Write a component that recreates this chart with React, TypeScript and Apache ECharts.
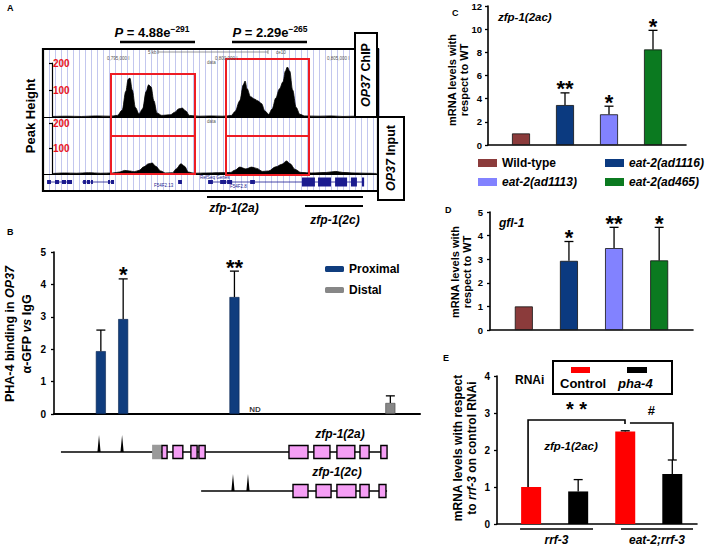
import React, { useEffect, useRef } from "react";
import * as echarts from "echarts";

const FONT = "'Liberation Sans', Arial, Helvetica, sans-serif";

// ---------------- Panel A: genome browser (x in kb from browser left edge) ----------------
const chipTrack: number[][] = [
  [0.4, 2], [1.0, 3], [1.6, 2], [2.2, 4], [2.8, 3], [3.1, 6], [3.3, 25], [3.45, 95], [3.55, 140], [3.62, 144],
  [3.72, 100], [3.85, 35], [4.0, 12], [4.15, 30], [4.3, 95], [4.4, 119], [4.5, 112], [4.62, 60], [4.75, 15],
  [4.95, 6], [5.3, 8], [5.5, 18], [5.65, 30], [5.8, 33], [5.95, 22], [6.1, 6], [6.5, 3], [7.0, 4], [7.5, 3],
  [7.85, 6], [8.0, 20], [8.2, 60], [8.35, 120], [8.42, 133], [8.5, 105], [8.65, 75], [8.8, 67], [8.95, 60],
  [9.1, 50], [9.25, 22], [9.4, 10], [9.55, 30], [9.7, 70], [9.85, 104], [10.0, 130], [10.1, 170], [10.18, 185],
  [10.28, 170], [10.4, 100], [10.55, 35], [10.7, 10], [10.9, 4], [11.5, 3], [12.0, 4], [12.5, 2], [13.0, 3],
  [13.5, 2], [13.9, 2],
];
const inputTrack: number[][] = [
  [0.4, 2], [0.9, 4], [1.4, 3], [1.9, 5], [2.4, 3], [2.9, 4], [3.2, 8], [3.4, 14], [3.6, 12], [3.8, 9],
  [4.0, 14], [4.2, 28], [4.4, 40], [4.55, 43], [4.7, 30], [4.9, 12], [5.1, 4], [5.4, 5], [5.55, 20], [5.75, 40],
  [5.9, 30], [6.05, 8], [6.3, 3], [6.8, 4], [7.3, 5], [7.8, 6], [8.0, 15], [8.2, 27], [8.45, 20], [8.7, 27],
  [8.9, 22], [9.15, 10], [9.4, 12], [9.7, 28], [9.95, 38], [10.15, 51], [10.3, 40], [10.5, 18], [10.75, 6],
  [11.2, 4], [11.8, 6], [12.2, 10], [12.5, 6], [13.0, 4], [13.5, 3], [13.9, 2],
];
// gene annotation track: [start kb, end kb]
const geneAIntrons: number[][] = [[0.17, 1.21], [1.63, 2.96], [6.88, 13.38]];
const geneASmallExons: number[][] = [
  [0.17, 0.33], [0.5, 0.67], [0.79, 0.96], [1.0, 1.21], [1.67, 1.79], [1.83, 1.96], [2.0, 2.08], [2.71, 2.79],
  [2.83, 2.96], [5.63, 5.79], [6.88, 7.08], [7.38, 7.63], [7.67, 7.88], [8.63, 8.83],
];
const geneABigExons: number[][] = [[10.79, 11.33], [11.46, 12.0], [12.17, 12.67], [12.83, 13.08], [13.29, 13.38]];

// ---------------- Panel B: PHA-4 ChIP-qPCR ----------------
const bProximalPos = [12.8, 18.9, 49.3];
const bProximalMean = [1.94, 2.93, 3.61];
const bProximalErr = [2.59, 4.17, 4.41];
const bProximalStars = ["", "*", "**"];
const bDistalPos = [91.9];
const bDistalMean = [0.34];
const bDistalErr = [0.56];
const bNDPos = [54.9];
// gene models (x in same units as panel B axis)
const geneBSpan2a = [1.9, 91.0];
const geneBSpan2c = [40.2, 91.0];
const geneBPeaks2a = [12.3, 18.6];
const geneBPeaks2c = [48.9, 53.0];
const geneBUtr2a: number[][] = [[27.0, 29.2]];
const geneBExons2a: number[][] = [
  [29.5, 30.9], [32.5, 35.2], [37.4, 39.1], [39.6, 41.3], [64.2, 69.4], [71.0, 75.4], [77.3, 82.2], [83.6, 86.1], [89.3, 91.0],
];
const geneBExons2c: number[][] = [[65.3, 69.4], [71.6, 75.7], [77.3, 82.5], [83.6, 86.1], [88.8, 90.7]];

// ---------------- Panels C & D: strains ----------------
const strains = ["Wild-type", "eat-2(ad1116)", "eat-2(ad1113)", "eat-2(ad465)"];
const strainColors = ["#8b3b3b", "#0b3a80", "#8282ff", "#0b7a20"];
const cMean = [1.0, 3.45, 2.65, 8.25];
const cErr = [1.0, 4.5, 3.35, 9.9];
const cStars = ["", "**", "*", "*"];
const dMean = [1.0, 2.93, 3.47, 2.95];
const dErr = [1.0, 3.75, 4.35, 4.35];
const dStars = ["", "*", "**", "*"];

// ---------------- Panel E: RNAi ----------------
const eGroups = ["rrf-3", "eat-2;rrf-3"];
const eControlMean = [1.0, 2.5];
const eControlErr = [1.0, 2.52];
const ePha4Mean = [0.88, 1.35];
const ePha4Err = [1.2, 1.73];
const eBrackets: number[][] = [[1.32, 1.0, 2.81, 5.44, 2.7], [5.65, 2.73, 2.73, 7.48, 1.73]];
const eBracketLabels = ["* *", "#"];

const bold = (size: number, extra: any = {}) => ({
  fontFamily: FONT, fontWeight: "bold", fontSize: size, color: "#000", ...extra,
});

function errSeries(name: string, idx: number, pos: number[], mean: number[], err: number[], stars: string[], starSize: number, cap: number) {
  return {
    type: "custom", name, xAxisIndex: idx, yAxisIndex: idx, z: 5,
    data: pos.map((p, i) => [p, mean[i], err[i]]),
    renderItem: (params: any, api: any) => {
      const x = api.value(0), v = api.value(1), e = api.value(2);
      const p0 = api.coord([x, v]);
      const p1 = api.coord([x, e]);
      const ls = { stroke: "#000", lineWidth: 1.3 };
      const children: any[] = [];
      if (e - v > 0) {
        children.push({ type: "line", shape: { x1: p0[0], y1: p0[1], x2: p1[0], y2: p1[1] }, style: ls });
        children.push({ type: "line", shape: { x1: p1[0] - cap, y1: p1[1], x2: p1[0] + cap, y2: p1[1] }, style: ls });
      }
      const s = stars[params.dataIndex];
      if (s) {
        children.push({
          type: "text", x: p1[0], y: p1[1] + starSize * 0.32,
          style: { text: s, fontSize: starSize, fontWeight: "bold", fontFamily: FONT, fill: "#000",
            textAlign: "center", textVerticalAlign: "bottom", align: "center", verticalAlign: "bottom" },
        });
      }
      return { type: "group", children };
    },
  };
}

function txt(text: string, x: number, y: number, size: number, opts: any = {}) {
  const { align = "left", valign = "middle", rotation = 0, italic = false, color = "#000", weight = "bold", rich, lineHeight } = opts;
  return {
    type: "text", x, y, rotation, z: 120,
    style: {
      text, fill: color, fontSize: size, fontWeight: weight, fontFamily: FONT,
      fontStyle: italic ? "italic" : "normal",
      textAlign: align, textVerticalAlign: valign, align, verticalAlign: valign,
      ...(rich ? { rich } : {}), ...(lineHeight ? { lineHeight } : {}),
    },
  };
}
function ln(x1: number, y1: number, x2: number, y2: number, w: number, color = "#000") {
  return { type: "line", z: 110, shape: { x1, y1, x2, y2 }, style: { stroke: color, lineWidth: w } };
}
function box(x: number, y: number, w: number, h: number, stroke: string, lw: number, fill: any = null, z = 110) {
  return { type: "rect", z, shape: { x, y, width: w, height: h }, style: { fill: fill || "transparent", stroke, lineWidth: lw } };
}

function buildOption() {
  const grids = [
    { left: 43, top: 49, width: 336, height: 142 }, // 0 A background
    { left: 43, top: 63, width: 336, height: 54 }, // 1 ChIP
    { left: 43, top: 123, width: 336, height: 51 }, // 2 Input
    { left: 43, top: 176, width: 336, height: 12 }, // 3 gene A
    { left: 54, top: 252, width: 366, height: 162 }, // 4 B
    { left: 54, top: 452, width: 366, height: 39 }, // 5 gene B
    { left: 488, top: 6, width: 198, height: 139 }, // 6 C
    { left: 490, top: 212, width: 203, height: 118 }, // 7 D
    { left: 497, top: 376, width: 200, height: 148 }, // 8 E
  ].map((g) => ({ ...g, outerBoundsMode: "none", containLabel: false }));

  const hiddenX = (gi: number, min: number, max: number) => ({
    type: "value", gridIndex: gi, min, max, show: false,
  });
  const lineX = (gi: number, min: number, max: number, w: number) => ({
    type: "value", gridIndex: gi, min, max,
    axisLine: { show: true, onZero: false, lineStyle: { color: "#000", width: w } },
    axisTick: { show: false }, axisLabel: { show: false }, splitLine: { show: false },
  });
  const xAxis = [
    {
      type: "value", gridIndex: 0, min: 0, max: 14, interval: 0.25,
      axisLine: { show: false }, axisTick: { show: false }, axisLabel: { show: false },
      splitLine: { show: true, lineStyle: { color: "#bcc1ec", width: 0.9 } },
    },
    lineX(1, 0, 14, 1),
    lineX(2, 0, 14, 1),
    hiddenX(3, 0, 14),
    lineX(4, 0, 100, 2),
    hiddenX(5, 0, 100),
    lineX(6, 0, 9, 1.6),
    lineX(7, 0, 9, 1.6),
    lineX(8, 0, 8.5, 1.6),
  ];
  const trackY = (gi: number) => ({
    type: "value", gridIndex: gi, min: 0, max: 200, interval: 100, offset: -9,
    axisLine: { show: true, lineStyle: { color: "#000", width: 1.2 } },
    axisTick: { show: true, length: 3, lineStyle: { color: "#000", width: 1.2 } },
    axisLabel: { show: true, inside: true, margin: 1, showMinLabel: false, ...bold(10, { color: "#e8141c" }) },
    splitLine: { show: false },
  });
  const valY = (gi: number, max: number, interval: number, margin: number, size: number) => ({
    type: "value", gridIndex: gi, min: 0, max, interval,
    axisLine: { show: true, lineStyle: { color: "#000", width: 1.6 } },
    axisTick: { show: true, length: 3, lineStyle: { color: "#000", width: 1.3 } },
    axisLabel: { show: true, margin, ...bold(size) },
    splitLine: { show: false },
  });
  const yAxis = [
    { type: "value", gridIndex: 0, min: 0, max: 1, show: false },
    trackY(1),
    trackY(2),
    { type: "value", gridIndex: 3, min: 0, max: 1, show: false },
    valY(4, 5, 1, 8, 10),
    { type: "value", gridIndex: 5, min: 0, max: 1, show: false },
    valY(6, 12, 2, 6, 9.5),
    valY(7, 5, 1, 7, 9.5),
    valY(8, 4, 1, 7, 10),
  ];

  const series: any[] = [];
  // ----- A tracks -----
  const trackSeries = (name: string, idx: number, data: number[][]) => ({
    type: "line", name, xAxisIndex: idx, yAxisIndex: idx, data, symbol: "none",
    smooth: 0.35, smoothMonotone: "x",
    lineStyle: { color: "#000", width: 0.8 }, areaStyle: { color: "#000", opacity: 1 }, z: 3,
  });
  series.push(trackSeries("OP37 ChIP", 1, chipTrack));
  series.push(trackSeries("OP37 Input", 2, inputTrack));
  const geneAData = [
    ...geneAIntrons.map((g) => [g[0], g[1], 0]),
    ...geneASmallExons.map((g) => [g[0], g[1], 1]),
    ...geneABigExons.map((g) => [g[0], g[1], 2]),
  ];
  series.push({
    type: "custom", name: "RefSeq Genes", xAxisIndex: 3, yAxisIndex: 3, data: geneAData, z: 4,
    renderItem: (params: any, api: any) => {
      const a = api.coord([api.value(0), 0.5]);
      const b = api.coord([api.value(1), 0.5]);
      const k = api.value(2);
      const col = "#1b1b8f";
      if (k === 0) return { type: "line", shape: { x1: a[0], y1: a[1], x2: b[0], y2: a[1] }, style: { stroke: col, lineWidth: 0.8 } };
      const h = k === 1 ? 4 : 9;
      return { type: "rect", shape: { x: a[0], y: a[1] - h / 2, width: Math.max(b[0] - a[0], 1), height: h }, style: { fill: col } };
    },
  });

  // ----- B -----
  series.push({
    type: "bar", name: "Proximal", xAxisIndex: 4, yAxisIndex: 4, barWidth: 10, barGap: "-100%",
    data: bProximalPos.map((p, i) => [p, bProximalMean[i]]),
    itemStyle: { color: "#103d7e", borderColor: "#0a2550", borderWidth: 0.6 },
  });
  series.push({
    type: "bar", name: "Distal", xAxisIndex: 4, yAxisIndex: 4, barWidth: 10, barGap: "-100%",
    data: bDistalPos.map((p, i) => [p, bDistalMean[i]]),
    itemStyle: { color: "#878787", borderColor: "#444", borderWidth: 0.6 },
  });
  series.push(errSeries("errB1", 4, bProximalPos, bProximalMean, bProximalErr, bProximalStars, 22, 4.5));
  series.push(errSeries("errB2", 4, bDistalPos, bDistalMean, bDistalErr, [""], 22, 4.5));
  series.push({
    type: "scatter", name: "ND", xAxisIndex: 4, yAxisIndex: 4, symbolSize: 0,
    data: bNDPos.map((p) => [p, 0]),
    label: { show: true, position: "top", distance: 1, formatter: "ND", ...bold(8), color: "#000" },
  });
  const geneBData = [
    [geneBSpan2a[0], geneBSpan2a[1], 1, 0],
    [geneBSpan2c[0], geneBSpan2c[1], 0, 0],
    ...geneBPeaks2a.map((p) => [p, p, 1, 3]),
    ...geneBPeaks2c.map((p) => [p, p, 0, 3]),
    ...geneBUtr2a.map((g) => [g[0], g[1], 1, 2]),
    ...geneBExons2a.map((g) => [g[0], g[1], 1, 1]),
    ...geneBExons2c.map((g) => [g[0], g[1], 0, 1]),
  ];
  series.push({
    type: "custom", name: "zfp-1 gene models", xAxisIndex: 5, yAxisIndex: 5, data: geneBData, z: 4,
    renderItem: (params: any, api: any) => {
      const row = api.value(2);
      const a = api.coord([api.value(0), row]);
      const b = api.coord([api.value(1), row]);
      const k = api.value(3);
      if (k === 0) return { type: "line", shape: { x1: a[0], y1: a[1], x2: b[0], y2: a[1] }, style: { stroke: "#000", lineWidth: 1.5 } };
      if (k === 3) return { type: "polygon", shape: { points: [[a[0] - 1.6, a[1]], [a[0], a[1] - 17], [a[0] + 1.6, a[1]]] }, style: { fill: "#000" } };
      const fill = k === 2 ? "#9a9a9a" : "#f59ef5";
      return { type: "rect", shape: { x: a[0], y: a[1] - 6.5, width: b[0] - a[0], height: 13 }, style: { fill, stroke: k === 2 ? "#9a9a9a" : "#000", lineWidth: 1.4 } };
    },
  });

  // ----- C & D -----
  const strainPos = strains.map((_, i) => 1.5 + 2 * i);
  strains.forEach((s, i) => {
    series.push({
      type: "bar", name: s, xAxisIndex: 6, yAxisIndex: 6, barWidth: 18, barGap: "-100%",
      data: [[strainPos[i], cMean[i]]],
      itemStyle: { color: strainColors[i], borderColor: "#111", borderWidth: 0.8 },
    });
  });
  series.push(errSeries("errC", 6, strainPos, cMean, cErr, cStars, 22, 4.5));
  strains.forEach((s, i) => {
    series.push({
      type: "bar", name: s, xAxisIndex: 7, yAxisIndex: 7, barWidth: 18, barGap: "-100%",
      data: [[strainPos[i], dMean[i]]],
      itemStyle: { color: strainColors[i], borderColor: "#111", borderWidth: 0.8 },
    });
  });
  series.push(errSeries("errD", 7, strainPos, dMean, dErr, dStars, 22, 4.5));

  // ----- E -----
  const eCtrlPos = [1.45, 5.45];
  const ePhaPos = [3.45, 7.45];
  series.push({
    type: "bar", name: "Control", xAxisIndex: 8, yAxisIndex: 8, barWidth: 20, barGap: "-100%",
    data: eCtrlPos.map((p, i) => [p, eControlMean[i]]), itemStyle: { color: "#ff0000" },
  });
  series.push({
    type: "bar", name: "pha-4", xAxisIndex: 8, yAxisIndex: 8, barWidth: 20, barGap: "-100%",
    data: ePhaPos.map((p, i) => [p, ePha4Mean[i]]), itemStyle: { color: "#000" },
  });
  series.push(errSeries("errE1", 8, eCtrlPos, eControlMean, eControlErr, ["", ""], 20, 4.5));
  series.push(errSeries("errE2", 8, ePhaPos, ePha4Mean, ePha4Err, ["", ""], 20, 4.5));
  series.push({
    type: "custom", name: "brackets", xAxisIndex: 8, yAxisIndex: 8, data: eBrackets, z: 6,
    renderItem: (params: any, api: any) => {
      const s = api.coord([api.value(0), api.value(1)]);
      const t = api.coord([api.value(0), api.value(2)]);
      const u = api.coord([api.value(3), api.value(2)]);
      const e = api.coord([api.value(3), api.value(4)]);
      const lbl = eBracketLabels[params.dataIndex];
      const isStar = lbl.indexOf("*") >= 0;
      return {
        type: "group",
        children: [
          { type: "polyline", shape: { points: [s, t, u, e] }, style: { stroke: "#000", lineWidth: 1.6, fill: null } },
          {
            type: "text", x: (t[0] + u[0]) / 2, y: t[1] - (isStar ? 1 : 6),
            style: { text: lbl, fontSize: isStar ? 20 : 13, fontWeight: "bold", fontFamily: FONT, fill: "#000",
              textAlign: "center", textVerticalAlign: "bottom", align: "center", verticalAlign: "bottom" },
          },
        ],
      };
    },
  });
  const eGroupSpan: number[][] = [[0.98, 4.08], [5.27, 8.33]];
  series.push({
    type: "custom", name: "groups", xAxisIndex: 8, yAxisIndex: 8, data: eGroupSpan, z: 6,
    renderItem: (params: any, api: any) => {
      const a = api.coord([api.value(0), 0]);
      const b = api.coord([api.value(1), 0]);
      return {
        type: "group",
        children: [
          { type: "line", shape: { x1: a[0], y1: a[1] + 5, x2: b[0], y2: a[1] + 5 }, style: { stroke: "#000", lineWidth: 1.6 } },
          {
            type: "text", x: (a[0] + b[0]) / 2, y: a[1] + 16,
            style: { text: eGroups[params.dataIndex], fontSize: 12, fontWeight: "bold", fontStyle: "italic", fontFamily: FONT, fill: "#000",
              textAlign: "center", textVerticalAlign: "middle", align: "center", verticalAlign: "middle" },
          },
        ],
      };
    },
  });

  const legendBase = {
    orient: "vertical", selectedMode: false, icon: "rect", itemWidth: 19, itemHeight: 8, padding: 0,
    itemStyle: { borderWidth: 0 }, textStyle: bold(12),
  };
  const legend = [
    { ...legendBase, left: 325, top: 263, itemHeight: 6, itemGap: 9, icon: "roundRect", data: ["Proximal", "Distal"] },
    { ...legendBase, left: 478, top: 157, itemGap: 7, data: [{ name: strains[0] }, { name: strains[2], textStyle: { fontStyle: "italic" } }] },
    { ...legendBase, left: 605, top: 157, itemGap: 7, data: [{ name: strains[1], textStyle: { fontStyle: "italic" } }, { name: strains[3], textStyle: { fontStyle: "italic" } }] },
  ];

  const itRich = (size: number) => ({
    i: { fontSize: size, fontWeight: "bold", fontStyle: "italic", fontFamily: FONT, fill: "#000", color: "#000" },
  });
  const pRich = {
    i: { fontSize: 13, fontWeight: "bold", fontStyle: "italic", fontFamily: FONT, fill: "#000", color: "#000" },
    n: { fontSize: 13, fontWeight: "bold", fontFamily: FONT, fill: "#000", color: "#000" },
    s: { fontSize: 8.5, fontWeight: "bold", fontFamily: FONT, fill: "#000", color: "#000", verticalAlign: "top", padding: [0, 0, 7, 0] },
  };

  const graphic = [
    // Panel letters
    txt("A", 7, 8, 9), txt("B", 7, 232, 9), txt("C", 452, 13, 9), txt("D", 445, 210, 9), txt("E", 443, 358, 9),
    // Panel A frame and labels
    box(43, 49, 335, 142, "#000", 2.2, null, 105),
    box(355, 33, 22, 84, "#000", 2, "#fff", 108),
    box(378, 117, 26, 83, "#000", 2, "#fff", 108),
    txt("{i|OP37} ChIP", 366, 75, 12.5, { align: "center", rotation: Math.PI / 2, rich: itRich(12.5) }),
    txt("{i|OP37} Input", 391, 158, 12.5, { align: "center", rotation: Math.PI / 2, rich: itRich(12.5) }),
    txt("Peak Height", 30, 116, 13, { align: "center", rotation: Math.PI / 2 }),
    txt("{i|P}{n| = 4.88e}{s|−291}", 152, 32, 13, { align: "center", rich: pRich }),
    txt("{i|P}{n| = 2.29e}{s|−265}", 270, 32, 13, { align: "center", rich: pRich }),
    ln(120, 42, 195, 42, 2.4), ln(232, 42, 307, 42, 2.4),
    // red highlight boxes
    box(111, 74, 84, 100, "#ee1c24", 2, null, 112), ln(111, 136, 195, 136, 2, "#ee1c24"),
    box(226, 59, 83, 116, "#ee1c24", 2, null, 112), ln(226, 136, 309, 136, 2, "#ee1c24"),
    // browser header tiny labels
    txt("0,795,000 I", 107, 58, 4.5, { color: "#555", weight: "normal" }),
    txt("5 kb", 148, 52, 4.5, { color: "#555", weight: "normal" }),
    ln(158, 52, 268, 52, 0.6, "#555"), ln(158, 50, 158, 54, 0.6, "#555"), ln(268, 50, 268, 54, 0.6, "#555"),
    txt("ce10", 276, 52, 4.5, { color: "#555", weight: "normal" }),
    txt("data", 207, 62, 4.5, { color: "#555", weight: "normal" }),
    txt("0,800,000 I", 215, 58, 4.5, { color: "#555", weight: "normal" }),
    txt("0,805,000 I", 327, 58, 4.5, { color: "#555", weight: "normal" }),
    txt("data", 207, 121, 4.5, { color: "#555", weight: "normal" }),
    txt("F54F2.13", 154, 185, 4.5, { color: "#1b1b8f", weight: "normal" }),
    txt("RefSeq Genes", 200, 177, 4.5, { color: "#1b1b8f", weight: "normal" }),
    txt("F54F2.8", 230, 186, 4.5, { color: "#1b1b8f", weight: "normal" }),
    // gene spans under A
    ln(207, 197, 363, 197, 2), txt("zfp-1(2a)", 234, 208, 12, { align: "center", italic: true }),
    ln(305, 206, 363, 206, 2), txt("zfp-1(2c)", 335, 220, 12, { align: "center", italic: true }),
    // Panel B labels
    txt("PHA-4 binding in {i|OP37}\nα-GFP {i|vs} IgG", 18, 334, 12.5, { align: "center", rotation: Math.PI / 2, rich: itRich(12.5), lineHeight: 17 }),
    txt("zfp-1(2a)", 340, 434, 12, { align: "center", italic: true }),
    txt("zfp-1(2c)", 337, 472, 12, { align: "center", italic: true }),
    // Panel C / D labels
    txt("mRNA levels with\nrespect to WT", 458, 80, 11, { align: "center", rotation: Math.PI / 2, lineHeight: 11.5 }),
    txt("zfp-1(2ac)", 498, 17, 11.5, { italic: true }),
    txt("mRNA levels with\nrespect to WT", 461, 272, 11, { align: "center", rotation: Math.PI / 2, lineHeight: 11.5 }),
    txt("gfl-1", 499, 223, 12, { italic: true }),
    // Panel E labels
    txt("mRNA levels with respect\nto {i|rrf-3} on control RNAi", 465, 448, 12, { align: "center", rotation: Math.PI / 2, rich: itRich(12), lineHeight: 14 }),
    txt("zfp-1(2ac)", 571, 446, 11.5, { align: "center", italic: true }),
    txt("RNAi", 515, 380, 12),
    box(553, 361, 119, 33, "#000", 2, "#fff", 108),
    { type: "rect", z: 115, shape: { x: 571, y: 367, width: 19, height: 6 }, style: { fill: "#ff0000" } },
    { type: "rect", z: 115, shape: { x: 627, y: 367, width: 20, height: 6 }, style: { fill: "#000" } },
    txt("Control", 560, 383, 13),
    txt("pha-4", 618, 383, 13, { italic: true }),
  ];

  return {
    animation: false,
    backgroundColor: "#fff",
    textStyle: { fontFamily: FONT },
    grid: grids,
    xAxis,
    yAxis,
    series,
    legend,
    graphic: { elements: graphic },
  };
}

export default function App() {
  const ref = useRef<HTMLDivElement>(null);
  useEffect(() => {
    if (!ref.current) return;
    const chart = echarts.init(ref.current, undefined, { renderer: "svg" });
    chart.setOption(buildOption() as any);
    return () => chart.dispose();
  }, []);
  return <div ref={ref} style={{ position: "absolute", left: 0, top: 0, width: 709, height: 553, background: "#fff" }} />;
}
